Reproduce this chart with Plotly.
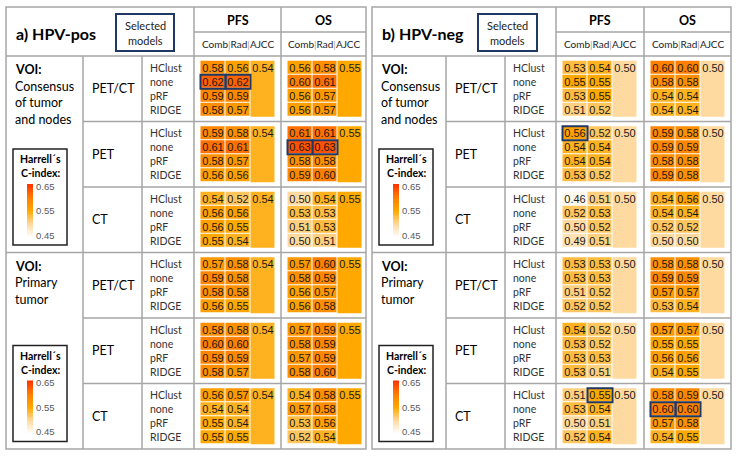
import numpy as np
import plotly.graph_objects as go

# ---------------- data ----------------
methods = ["HClust", "none", "pRF", "RIDGE"]
modalities = ["PET/CT", "PET", "CT"]
models = ["Comb", "Rad", "AJCC"]
endpoints = ["PFS", "OS"]
voi_lines = [["<b>VOI:</b>", "Consensus", "of tumor", "and nodes"],
             ["<b>VOI:</b>", "Primary", "tumor"]]

# blocks in order: Consensus PET/CT, PET, CT, Primary PET/CT, PET, CT ; values per method
pos_pfs_comb = [[0.58, 0.62, 0.59, 0.58], [0.59, 0.61, 0.58, 0.56], [0.54, 0.56, 0.56, 0.55],
                [0.57, 0.59, 0.58, 0.56], [0.58, 0.60, 0.59, 0.58], [0.56, 0.54, 0.55, 0.55]]
pos_pfs_rad = [[0.56, 0.62, 0.59, 0.57], [0.58, 0.61, 0.57, 0.56], [0.52, 0.56, 0.55, 0.54],
               [0.58, 0.58, 0.58, 0.55], [0.58, 0.60, 0.59, 0.57], [0.57, 0.54, 0.54, 0.55]]
pos_os_comb = [[0.56, 0.60, 0.56, 0.56], [0.61, 0.63, 0.58, 0.59], [0.50, 0.53, 0.51, 0.50],
               [0.57, 0.58, 0.56, 0.56], [0.57, 0.58, 0.57, 0.58], [0.54, 0.57, 0.53, 0.52]]
pos_os_rad = [[0.58, 0.61, 0.57, 0.57], [0.61, 0.63, 0.58, 0.60], [0.54, 0.53, 0.53, 0.51],
              [0.60, 0.59, 0.57, 0.58], [0.59, 0.59, 0.59, 0.60], [0.58, 0.58, 0.56, 0.54]]
pos_pfs_ajcc = 0.54
pos_os_ajcc = 0.55

neg_pfs_comb = [[0.53, 0.55, 0.53, 0.51], [0.56, 0.54, 0.54, 0.53], [0.46, 0.52, 0.50, 0.49],
                [0.53, 0.53, 0.51, 0.52], [0.54, 0.53, 0.53, 0.53], [0.51, 0.53, 0.50, 0.52]]
neg_pfs_rad = [[0.54, 0.55, 0.55, 0.52], [0.52, 0.54, 0.54, 0.52], [0.51, 0.53, 0.52, 0.51],
               [0.53, 0.53, 0.52, 0.52], [0.52, 0.52, 0.53, 0.51], [0.55, 0.54, 0.51, 0.54]]
neg_os_comb = [[0.60, 0.58, 0.54, 0.54], [0.59, 0.59, 0.58, 0.59], [0.54, 0.54, 0.52, 0.50],
               [0.58, 0.59, 0.57, 0.53], [0.57, 0.55, 0.56, 0.54], [0.58, 0.60, 0.57, 0.54]]
neg_os_rad = [[0.60, 0.58, 0.54, 0.54], [0.58, 0.59, 0.58, 0.58], [0.56, 0.54, 0.52, 0.50],
              [0.58, 0.59, 0.57, 0.54], [0.57, 0.55, 0.56, 0.55], [0.59, 0.60, 0.58, 0.55]]
neg_pfs_ajcc = 0.50
neg_os_ajcc = 0.50

# selected models: (panel, endpoint, block, method, model)
highlights = [("pos", "PFS", 0, "none", "Comb"), ("pos", "PFS", 0, "none", "Rad"),
              ("pos", "OS", 1, "none", "Comb"), ("pos", "OS", 1, "none", "Rad"),
              ("neg", "PFS", 1, "HClust", "Comb"), ("neg", "PFS", 5, "HClust", "Rad"),
              ("neg", "OS", 5, "none", "Comb"), ("neg", "OS", 5, "none", "Rad")]

legend_ticks = [0.65, 0.55, 0.45]

# ---------------- layout constants ----------------
W, H = 738, 457
FONT = "Lato"
NUMFONT = "Liberation Sans"
GRAY = "#A6A6A6"
NAVY = "#1F3864"
Y_TOP, Y_MID, Y_HEAD, Y_BOT = 7, 32, 56, 449
ROW_H = (Y_BOT - Y_HEAD) / 6
CW, CH = 25, 14
BX_OFF, BY_OFF = 6.5, 4.75

panels = [
    dict(key="pos", title="a) HPV-pos", cols=[6, 83, 142, 194, 281, 366], sel=(116, 174),
         data={"PFS": (pos_pfs_comb, pos_pfs_rad, pos_pfs_ajcc), "OS": (pos_os_comb, pos_os_rad, pos_os_ajcc)}),
    dict(key="neg", title="b) HPV-neg", cols=[372, 446, 505, 556, 644, 731], sel=(478, 537),
         data={"PFS": (neg_pfs_comb, neg_pfs_rad, neg_pfs_ajcc), "OS": (neg_os_comb, neg_os_rad, neg_os_ajcc)}),
]

colorscale = [[0.0, "#FFFFFF"], [0.25, "#FFDAA0"], [0.5, "#FFA800"], [0.75, "#FF7F00"], [1.0, "#FF3300"]]

fig = go.Figure()
shapes, annotations = [], []
LINE = dict(color=GRAY, width=1.5)


def hline(y, x0, x1):
    shapes.append(dict(type="line", xref="x", yref="y", x0=x0, x1=x1, y0=y, y1=y, line=LINE))


def vline(x, y0, y1):
    shapes.append(dict(type="line", xref="x", yref="y", x0=x, x1=x, y0=y0, y1=y1, line=LINE))


def text(x, y, s, size, color="#000000", family=FONT, xanchor="left"):
    annotations.append(dict(x=x, y=y, xref="x", yref="y", text=s, showarrow=False,
                            xanchor=xanchor, yanchor="middle",
                            font=dict(size=size, color=color, family=family)))


for p in panels:
    c = p["cols"]
    # grid lines
    shapes.append(dict(type="rect", xref="x", yref="y", x0=c[0], x1=c[5], y0=Y_TOP, y1=Y_BOT, line=LINE))
    hline(Y_HEAD, c[0], c[5])
    hline(Y_MID, c[3], c[5])
    vline(c[3], Y_TOP, Y_BOT)
    vline(c[4], Y_TOP, Y_BOT)
    vline(c[1], Y_HEAD, Y_BOT)
    vline(c[2], Y_HEAD, Y_BOT)
    hline(Y_HEAD + 3 * ROW_H, c[0], c[5])
    for r in (1, 2, 4, 5):
        hline(Y_HEAD + r * ROW_H, c[1], c[5])

    # header
    text(c[0] + 8, 33, "<b>%s</b>" % p["title"], 16)
    s0, s1 = p["sel"]
    shapes.append(dict(type="rect", xref="x", yref="y", x0=s0, x1=s1, y0=14, y1=51,
                       line=dict(color=NAVY, width=2)))
    text((s0 + s1) / 2, 25, "Selected", 11, "#222", xanchor="center")
    text((s0 + s1) / 2, 40, "models", 11, "#222", xanchor="center")
    for k, ep in enumerate(endpoints):
        cx = (c[3 + k] + c[4 + k]) / 2
        text(cx, 20, "<b>%s</b>" % ep, 12.5, xanchor="center")
        bar = "<span style='color:#A0A0A0'>|</span>"
        text(cx, 44, bar.join(models), 10, "#222", xanchor="center")

    # sections
    for s in range(2):
        sec_top = Y_HEAD + 3 * s * ROW_H
        for i, line in enumerate(voi_lines[s]):
            text(c[0] + 7, sec_top + 13.5 + 16.7 * i, line, 12.5)
        # legend box
        lx0 = c[0] + 7
        ly0 = sec_top + 93
        shapes.append(dict(type="rect", xref="x", yref="y", x0=lx0, x1=lx0 + 54, y0=ly0, y1=ly0 + 96,
                           line=dict(color="#222", width=1.5)))
        text(lx0 + 27, ly0 + 10, "<b>Harrell´s</b>", 10.5, xanchor="center")
        text(lx0 + 27, ly0 + 24, "<b>C-index:</b>", 10.5, xanchor="center")
        grad = np.linspace(legend_ticks[0], legend_ticks[-1], 40)
        fig.add_trace(go.Heatmap(z=[[v] for v in grad], x=[lx0 + 14, lx0 + 20],
                                 y=np.linspace(ly0 + 35, ly0 + 89, len(grad) + 1),
                                 coloraxis="coloraxis", hoverinfo="skip"))
        for j, t in enumerate(legend_ticks):
            text(lx0 + 21, ly0 + 37 + 24.5 * j, "%.2f" % t, 9.5, "#595959", family=NUMFONT)

        for m in range(3):
            b = 3 * s + m
            rt = Y_HEAD + b * ROW_H
            text(c[1] + 7, rt + ROW_H / 2, modalities[m], 12.5)
            by = rt + BY_OFF
            for i, meth in enumerate(methods):
                text(c[2] + 6, by + CH * (i + 0.5), meth, 10.5, "#333")
            for k, ep in enumerate(endpoints):
                comb, rad, ajcc = p["data"][ep]
                bx = c[3 + k] + BX_OFF
                fig.add_trace(go.Heatmap(
                    z=[[comb[b][i], rad[b][i]] for i in range(4)],
                    x=[bx + CW * j for j in range(3)],
                    y=[by + CH * i for i in range(5)],
                    coloraxis="coloraxis", xgap=1, ygap=1,
                    texttemplate="%{z:.2f}", textfont=dict(size=11, family=NUMFONT, color="#1a1a1a"),
                    hoverinfo="skip"))
                fig.add_trace(go.Heatmap(
                    z=[[ajcc] for _ in range(4)],
                    x=[bx + 2 * CW, bx + 3 * CW],
                    y=[by + CH * i for i in range(5)],
                    text=[["%.2f" % ajcc]] + [[""]] * 3, texttemplate="%{text}",
                    coloraxis="coloraxis", xgap=1, ygap=0,
                    textfont=dict(size=11, family=NUMFONT, color="#1a1a1a"),
                    hoverinfo="skip"))

# selected-model boxes
for pk, ep, b, meth, mod in highlights:
    p = [q for q in panels if q["key"] == pk][0]
    k = endpoints.index(ep)
    bx = p["cols"][3 + k] + BX_OFF + CW * models.index(mod)
    by = Y_HEAD + b * ROW_H + BY_OFF + CH * methods.index(meth)
    shapes.append(dict(type="rect", xref="x", yref="y", x0=bx, x1=bx + CW, y0=by, y1=by + CH,
                       line=dict(color=NAVY, width=2)))

fig.update_layout(
    width=W, height=H, margin=dict(l=0, r=0, t=0, b=0),
    paper_bgcolor="white", plot_bgcolor="white",
    xaxis=dict(range=[0, W], visible=False, fixedrange=True),
    yaxis=dict(range=[H, 0], visible=False, fixedrange=True),
    coloraxis=dict(colorscale=colorscale, cmin=0.45, cmax=0.65, showscale=False),
    shapes=shapes, annotations=annotations, showlegend=False,
)
fig.write_html("out.html", post_script="document.body.style.margin='0';",
               config={"displayModeBar": False})
